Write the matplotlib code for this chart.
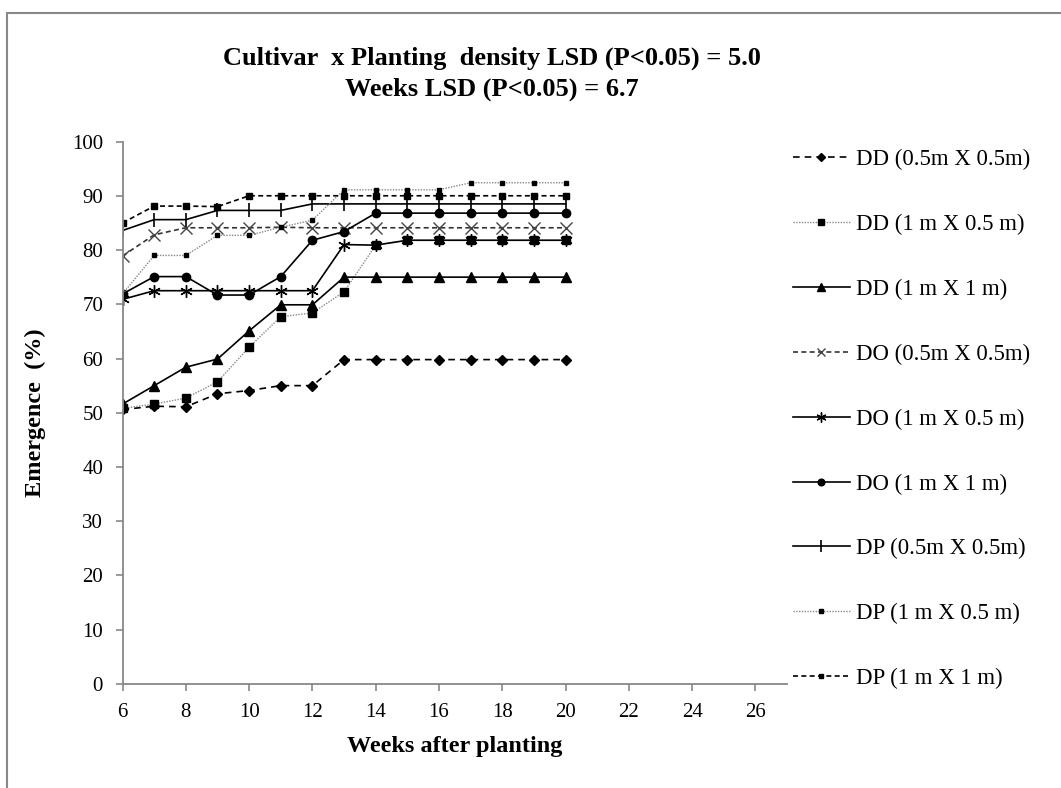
import matplotlib
matplotlib.use("Agg")
import matplotlib.pyplot as plt
from matplotlib.patches import Rectangle

plt.rcParams['font.family'] = ['Liberation Serif', 'DejaVu Serif']

weeks = [6, 7, 8, 9, 10, 11, 12, 13, 14, 15, 16, 17, 18, 19, 20]

dd_05x05 = [50.6, 51.2, 51.1, 53.5, 54.1, 55.0, 55.0, 59.8, 59.8, 59.8, 59.8, 59.8, 59.8, 59.8, 59.8]
dd_1x05 = [50.8, 51.6, 52.7, 55.7, 62.1, 67.7, 68.4, 72.3, 80.9, 81.8, 81.8, 81.8, 81.8, 81.8, 81.8]
dd_1x1 = [51.6, 55.0, 58.4, 59.9, 65.1, 69.9, 69.9, 75.0, 75.0, 75.0, 75.0, 75.0, 75.0, 75.0, 75.0]
do_05x05 = [78.9, 82.8, 84.1, 84.1, 84.1, 84.2, 84.1, 84.1, 84.1, 84.1, 84.1, 84.1, 84.1, 84.1, 84.1]
do_1x05 = [70.9, 72.5, 72.5, 72.5, 72.5, 72.5, 72.5, 81.0, 80.9, 81.8, 81.8, 81.8, 81.8, 81.8, 81.8]
do_1x1 = [71.9, 75.1, 75.1, 71.7, 71.7, 75.1, 81.8, 83.4, 86.8, 86.8, 86.8, 86.8, 86.8, 86.8, 86.8]
dp_05x05 = [83.6, 85.6, 85.6, 87.3, 87.3, 87.3, 88.5, 88.5, 88.5, 88.5, 88.5, 88.5, 88.5, 88.5, 88.5]
dp_1x05 = [71.9, 79.0, 79.0, 82.7, 82.7, 84.2, 85.5, 91.1, 91.1, 91.1, 91.1, 92.4, 92.4, 92.4, 92.4]
dp_1x1 = [85.0, 88.1, 88.1, 88.0, 90.0, 90.0, 90.0, 90.0, 90.0, 90.0, 90.0, 90.0, 90.0, 90.0, 90.0]

labels = ["DD (0.5m X 0.5m)", "DD (1 m X 0.5 m)", "DD (1 m X 1 m)",
          "DO (0.5m X 0.5m)", "DO (1 m X 0.5 m)", "DO (1 m X 1 m)",
          "DP (0.5m X 0.5m)", "DP (1 m X 0.5 m)", "DP (1 m X 1 m)"]

fig = plt.figure(figsize=(10.61, 7.88), dpi=100)
ax = fig.add_axes([0.1155, 0.132, 0.6263, 0.6884])

# outer frame like the spreadsheet chart area
fig.patches.append(Rectangle((7 / 1061, -0.05), 1.1, 1 - 13 / 788 + 0.05,
                             transform=fig.transFigure, fill=False,
                             edgecolor='#888888', linewidth=1.5))

ax.plot(weeks, dd_05x05, color='black', linestyle=(0, (4, 3)), linewidth=1.2,
        marker='D', markersize=5, label=labels[0])
ax.plot(weeks, dd_1x05, color='#888888', linestyle=(0, (1, 1)), linewidth=1.0,
        marker='s', markersize=6, markerfacecolor='black', markeredgecolor='black', label=labels[1])
ax.plot(weeks, dd_1x1, color='black', linestyle='-', linewidth=1.2,
        marker='^', markersize=7, label=labels[2])
ax.plot(weeks, do_05x05, color='#333333', linestyle=(0, (3, 2)), linewidth=1.2,
        marker='x', markersize=8, markeredgecolor='#444444', label=labels[3])
ax.plot(weeks, do_1x05, color='black', linestyle='-', linewidth=1.2,
        marker=(6, 2, 0), markersize=9, label=labels[4])
ax.plot(weeks, do_1x1, color='black', linestyle='-', linewidth=1.2,
        marker='o', markersize=6, label=labels[5])
ax.plot(weeks, dp_05x05, color='black', linestyle='-', linewidth=1.2,
        marker='|', markersize=10, markeredgewidth=1.2, label=labels[6])
ax.plot(weeks, dp_1x05, color='#888888', linestyle=(0, (1, 1)), linewidth=1.0,
        marker='s', markersize=3.5, markerfacecolor='black', markeredgecolor='black', label=labels[7])
ax.plot(weeks, dp_1x1, color='black', linestyle=(0, (3, 2)), linewidth=1.2,
        marker='s', markersize=4, label=labels[8])

ax.set_xlim(6, 27)
ax.set_ylim(0, 100)
ax.set_xticks(range(6, 27, 2))
ax.set_yticks(range(0, 101, 10))
for s in ['top', 'right']:
    ax.spines[s].set_visible(False)
for s in ['left', 'bottom']:
    ax.spines[s].set_color('#888888')
    ax.spines[s].set_linewidth(1.3)
ax.tick_params(direction='out', length=5, width=1.2, color='#888888',
               labelsize=15, pad=9)

ax.set_xlabel('Weeks after planting', fontsize=17.5, fontweight='bold', labelpad=10)
ax.set_ylabel('Emergence  (%)', fontsize=17.5, fontweight='bold', labelpad=19)

fig.text(0.464, 0.906, 'Cultivar  x Planting  density LSD (P<0.05) = 5.0\nWeeks LSD (P<0.05) = 6.7',
         ha='center', va='center', fontsize=19, fontweight='bold', linespacing=1.42)

fig.legend(loc='upper left', bbox_to_anchor=(0.7277, 0.837), frameon=False,
           fontsize=16.4, handlelength=2.5, handletextpad=0.3, labelspacing=1.92,
           markerscale=0.8)

fig.savefig('out.png', dpi=100)
